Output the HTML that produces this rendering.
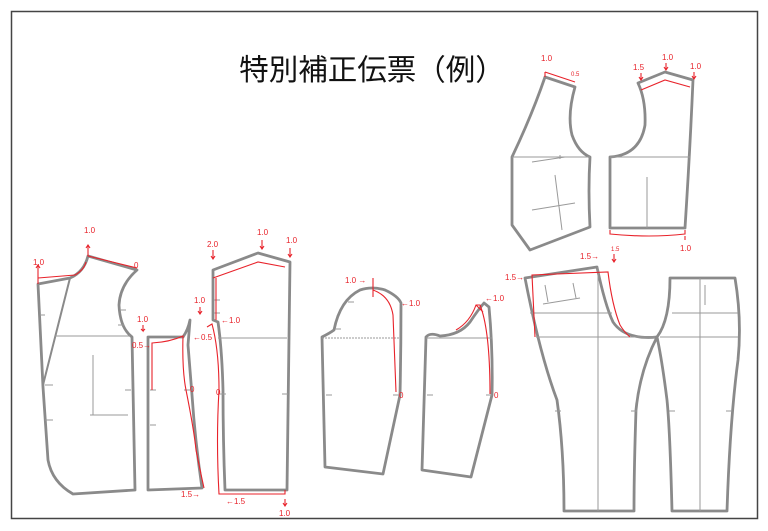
<!DOCTYPE html>
<html><head><meta charset="utf-8"><style>
html,body{margin:0;padding:0;background:#fff;width:768px;height:531px;overflow:hidden}
svg{display:block}
.g{fill:none;stroke:#8a8a8a;stroke-width:2.8;stroke-linejoin:round;stroke-linecap:round}
.t{fill:none;stroke:#9a9a9a;stroke-width:1}
.r{fill:none;stroke:#e8222a;stroke-width:1.1}
.l{fill:#e8222a;font-family:"Liberation Sans",sans-serif;font-size:8px}
</style></head><body>
<svg width="768" height="531" viewBox="0 0 768 531" xmlns="http://www.w3.org/2000/svg">
<rect x="11.5" y="11.5" width="746" height="507" fill="none" stroke="#444" stroke-width="1.5"/>
<text x="372" y="80" text-anchor="middle" font-family="'Liberation Sans','Noto Sans CJK JP',sans-serif" font-size="29.5" fill="#111">特別補正伝票（例）</text>

<!-- Left front -->
<path class="g" d="M38,284 L70,278 Q84,272 88,256 L137,270 Q120,285 119,305 Q120,328 132,337 L135,490 L73,494 Q52,482 48,460 L43,387 L38,284 Z"/>
<path class="g" d="M70,278 L43,385" style="stroke-width:2"/>
<path class="t" d="M55,336 H130 M93,355 V415 M90,415 H128 M40,315 h5 M45,385 h8 M45,420 h8 M120,310 h6 M118,325 h6 M125,390 h6"/>
<path class="r" d="M38,278 L75,275 Q84,270 86,262 M88,245 V256 L137,268 M38,266 V284"/>
<path class="r" d="M36,268 l2,-3 l2,3 M86,248 l2,-3 l2,3"/>
<text class="l" x="33" y="265">1.0</text><text class="l" x="84" y="233">1.0</text><text class="l" x="134" y="268">0</text>

<!-- Side panel -->
<path class="g" d="M148,337 L183,337 Q188,330 190,320 L188,345 L192,395 Q195,440 202,488 L148,490 Z"/>
<path class="t" d="M150,390 h6 M150,425 h6 M184,390 h6"/>
<path class="r" d="M152,390 V343 Q170,342 183,336 Q182,370 186,390 Q194,430 196,450 Q200,470 204,488"/>
<text class="l" x="137" y="322">1.0</text><path class="r" d="M143,325 v6 l-2,-2 M143,331 l2,-2"/>
<text class="l" x="132" y="348">0.5→</text><text class="l" x="193" y="340">←0.5</text>
<text class="l" x="190" y="392">0</text><text class="l" x="181" y="497">1.5→</text>

<!-- Back -->
<path class="g" d="M213,270 L258,253 L290,262 Q288,380 287,490 L225,490 Q223,440 223,390 Q222,350 218,322 L213,320 Z"/>
<path class="t" d="M218,338 H287 M214,300 h6 M214,313 h6 M220,394 h6 M282,394 h6"/>
<path class="r" d="M213,278 L258,262 L285,267 M216,278 V320 M207,327 L212,324 Q219,350 219,390 Q216,440 219,494 H285 V490"/>
<text class="l" x="207" y="247">2.0</text><text class="l" x="257" y="235">1.0</text><text class="l" x="286" y="243">1.0</text>
<text class="l" x="194" y="303">1.0</text><text class="l" x="221" y="323">←1.0</text><text class="l" x="216" y="395">0</text>
<text class="l" x="226" y="504">←1.5</text><text class="l" x="279" y="516">1.0</text>
<path class="r" d="M213,250 v8 M211,256 l2,3 l2,-3 M262,240 v8 M260,246 l2,3 l2,-3 M290,248 v8 M288,254 l2,3 l2,-3 M200,307 v6 M198,311 l2,3 l2,-3 M285,499 v6 M283,503 l2,3 l2,-3"/>

<!-- Sleeve 1 -->
<path class="g" d="M322,337 Q330,333 334,330 Q340,300 360,290 Q372,286 385,290 Q398,296 401,303 Q401,350 400,395 L383,474 L325,467 L322,337 Z"/>
<path class="t" d="M322,338 H400" stroke-dasharray="2,1"/>
<path class="t" d="M326,395 h6 M393,395 h6 M348,302 h6 M335,329 h6"/>
<path class="r" d="M373,278 V297 M373,290 Q390,296 393,315 L396,392"/>
<text class="l" x="345" y="283">1.0 →</text><text class="l" x="401" y="306">←1.0</text><text class="l" x="399" y="398">0</text>

<!-- Sleeve 2 -->
<path class="g" d="M426,337 Q430,332 440,336 Q460,335 470,322 Q478,310 484,303 L489,307 Q493,350 492,395 L471,477 L422,470 L426,337 Z"/>
<path class="t" d="M426,338 H492 M427,395 h6 M486,395 h6"/>
<path class="r" d="M456,330 Q470,322 476,305 L480,305 Q490,330 490,394 M476,305 L483,312"/>
<text class="l" x="485" y="301">←1.0</text><text class="l" x="494" y="398">0</text>

<!-- Vest left -->
<path class="g" d="M545,77 L575,87 Q567,115 572,135 Q578,152 590,157 Q588,190 590,227 L530,250 L512,225 L512,157 Q532,115 545,77 Z"/>
<path class="t" d="M512,157 H590 M532,162 L565,157 M560,155 v4 M555,175 L562,230 M532,210 L575,203"/>
<path class="r" d="M545,72 L575,82 M545,72 v5"/>
<text class="l" x="541" y="61">1.0</text><text class="l" x="571" y="76" style="font-size:6px">0.5</text>

<!-- Vest right -->
<path class="g" d="M638,83 L665,72 L693,80 Q690,150 685,228 L610,228 L610,157 Q640,155 645,125 Q646,100 638,83 Z"/>
<path class="t" d="M610,157 H690 M647,177 V228"/>
<path class="r" d="M641,90 L665,80 L690,87 M610,230 V234 Q650,238 685,234 V230"/>
<text class="l" x="633" y="70">1.5</text><text class="l" x="662" y="60">1.0</text><text class="l" x="690" y="69">1.0</text><text class="l" x="680" y="251">1.0</text>
<path class="r" d="M641,73 v6 M639,77 l2,3 l2,-3 M666,63 v6 M664,67 l2,3 l2,-3 M694,72 v6 M692,76 l2,3 l2,-3 M685,236 v4"/>

<!-- Pants front -->
<path class="g" d="M525,278 L597,267 Q605,305 613,322 Q625,340 657,337 Q640,370 636,410 Q634,470 634,511 L564,511 Q564,450 557,400 Q540,355 525,278 Z"/>
<path class="t" d="M598,267 V511 M530,313 H612 M536,337 H655 M545,285 L548,302 M573,283 L576,298 M543,304 L580,298 M555,411 h6 M631,411 h6"/>
<path class="r" d="M535,337 L532,275 L608,272 Q612,305 620,325 Q625,333 630,337"/>
<text class="l" x="505" y="280">1.5→</text><text class="l" x="580" y="259">1.5→</text><text class="l" x="611" y="251" style="font-size:6px">1.5</text>
<path class="r" d="M614,254 v7 M612,259 l2,3 l2,-3"/>

<!-- Pants back -->
<path class="g" d="M670,278 L735,278 Q742,320 738,360 Q730,420 727,511 L672,511 Q670,430 667,400 Q662,360 657,337 Q670,320 670,278 Z"/>
<path class="t" d="M700,278 V511 M672,313 H738 M660,337 H738 M705,285 L705,305 M669,411 h6 M726,411 h6"/>
</svg>
</body></html>
